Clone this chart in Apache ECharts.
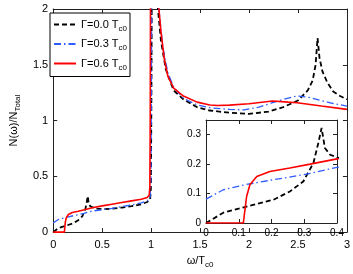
<!DOCTYPE html>
<html><head><meta charset="utf-8">
<script src="https://cdn.jsdelivr.net/npm/echarts@6/dist/echarts.min.js"></script>
<style>html,body{margin:0;padding:0;background:#fff}#c{width:353px;height:274px}</style>
</head><body><div id="c"></div>
<script>
// main axis ticks
const xTicksMain = [0, 0.5, 1, 1.5, 2, 2.5, 3];
const yTicksMain = [0, 0.5, 1, 1.5, 2];
// inset axis ticks
const xTicksInset = [0, 0.1, 0.2, 0.3, 0.4];
const yTicksInset = [0, 0.1, 0.2, 0.3];
const insetYMax = 0.35;

const seriesNames = ['Γ=0.0 T', 'Γ=0.3 T', 'Γ=0.6 T'];

// Γ = 0.0 Tc0
const black = [
  [0,0],[0.053,0.035],[0.119,0.054],[0.206,0.079],[0.256,0.107],[0.297,0.141],
  [0.328,0.204],[0.343,0.272],[0.353,0.323],[0.363,0.255],[0.379,0.232],[0.4,0.223],
  [0.45,0.21],[0.5,0.205],[0.6,0.21],[0.7,0.22],[0.8,0.232],[0.9,0.25],[0.96,0.27],
  [0.99,0.29],[0.998,0.4],[1.003,1.2],[1.008,2.6],
  [1.055,2.2],[1.07,2.0],[1.1,1.72],[1.15,1.46],[1.23,1.27],[1.33,1.19],[1.47,1.12],
  [1.6,1.09],[1.8,1.07],[2.0,1.06],[2.2,1.08],[2.35,1.12],[2.5,1.18],[2.6,1.27],
  [2.65,1.36],[2.68,1.5],[2.70,1.74],[2.72,1.56],[2.75,1.44],[2.8,1.34],[2.86,1.26],
  [2.93,1.22],[3.0,1.19]
];
// Γ = 0.3 Tc0
const blue = [
  [0,0.081],[0.053,0.113],[0.119,0.13],[0.206,0.147],[0.307,0.166],[0.4,0.189],
  [0.5,0.2],[0.6,0.213],[0.7,0.228],[0.8,0.243],[0.9,0.262],[0.96,0.28],[0.99,0.31],
  [0.998,0.5],[1.003,1.3],[1.008,2.6],
  [1.06,2.2],[1.08,2.0],[1.12,1.66],[1.17,1.43],[1.23,1.3],[1.33,1.2],[1.47,1.14],
  [1.6,1.115],[1.8,1.1],[1.95,1.095],[2.1,1.12],[2.24,1.16],[2.35,1.19],[2.49,1.22],
  [2.6,1.21],[2.73,1.18],[2.85,1.155],[3.0,1.13]
];
// Γ = 0.6 Tc0
const red = [
  [0,0],[0.114,0],[0.124,0.09],[0.134,0.13],[0.155,0.158],[0.195,0.175],[0.256,0.187],
  [0.318,0.2],[0.4,0.218],[0.5,0.235],[0.6,0.25],[0.7,0.265],[0.8,0.28],[0.9,0.295],
  [0.96,0.31],[0.98,0.33],[0.987,0.4],[0.991,1.0],[0.995,2.6],
  [1.065,2.15],[1.08,2.0],[1.1,1.8],[1.135,1.55],[1.17,1.4],[1.23,1.29],[1.33,1.22],
  [1.47,1.165],[1.6,1.14],[1.68,1.135],[1.8,1.138],[2.0,1.15],[2.24,1.175],[2.4,1.165],
  [2.49,1.16],[2.74,1.13],[3.0,1.10]
];

const font = 'Liberation Sans, Arial, sans-serif';
const axisCol = '#222';
const colors = ['#000000', '#2f5cff', '#ff0000'];
const dashes = [[5, 3], [7, 3, 1.5, 3], 'solid'];
const widths = [1.8, 1.3, 1.6];
const datas = [black, blue, red];

function axisBase(min, max, step, showLabel, pos, grid, fs) {
  return {
    type: 'value', gridIndex: grid, min: min, max: max, interval: step, position: pos,
    axisLine: {show: true, onZero: false, lineStyle: {color: axisCol, width: 1}},
    axisTick: {show: true, inside: true, length: 4, lineStyle: {color: axisCol}},
    splitLine: {show: false},
    axisLabel: {show: showLabel, color: '#000', fontSize: fs, fontFamily: font, margin: 5,
      formatter: v => String(+v.toFixed(2))}
  };
}

const chart = echarts.init(document.getElementById('c'), null, {renderer: 'canvas'});
const xMain = xTicksMain[1] - xTicksMain[0];
const yMain = yTicksMain[1] - yTicksMain[0];
const xIn = xTicksInset[1] - xTicksInset[0];
const yIn = yTicksInset[1] - yTicksInset[0];

const xAxes = [
  Object.assign(axisBase(xTicksMain[0], xTicksMain[xTicksMain.length-1], xMain, true, 'bottom', 0, 11), {
    name: '{a|ω/T}{s|c0}', nameLocation: 'middle', nameGap: 17,
    nameTextStyle: {rich: {a: {fontSize: 11, fontFamily: font, color: '#000'},
      s: {fontSize: 8, fontFamily: font, color: '#000', padding: [9, 0, 0, 0]}}}
  }),
  axisBase(xTicksMain[0], xTicksMain[xTicksMain.length-1], xMain, false, 'top', 0, 11),
  axisBase(xTicksInset[0], xTicksInset[xTicksInset.length-1], xIn, true, 'bottom', 1, 10),
  axisBase(xTicksInset[0], xTicksInset[xTicksInset.length-1], xIn, false, 'top', 1, 10)
];
xAxes[0].axisLabel.margin = 7;
const yAxes = [
  Object.assign(axisBase(yTicksMain[0], yTicksMain[yTicksMain.length-1], yMain, true, 'left', 0, 11), {
    name: '{a|N(ω)/N}{s|Total}', nameLocation: 'middle', nameGap: 28, nameRotate: 90,
    nameTextStyle: {rich: {a: {fontSize: 11, fontFamily: font, color: '#000'},
      s: {fontSize: 8, fontFamily: font, color: '#000', padding: [9, 0, 0, 0]}}}
  }),
  axisBase(yTicksMain[0], yTicksMain[yTicksMain.length-1], yMain, false, 'right', 0, 11),
  axisBase(yTicksInset[0], insetYMax, yIn, true, 'left', 1, 10),
  axisBase(yTicksInset[0], insetYMax, yIn, false, 'right', 1, 10)
];
yAxes[2].axisLabel.showMaxLabel = false;

const series = [];
for (let g = 0; g < 2; g++) {
  for (let i = 0; i < 3; i++) {
    series.push({
      name: seriesNames[i], type: 'line', xAxisIndex: g === 0 ? 0 : 2, yAxisIndex: g === 0 ? 0 : 2,
      data: datas[i], symbol: 'none', showSymbol: false, smooth: false, clip: true, animation: false,
      lineStyle: {color: colors[i], width: widths[i], type: dashes[i]},
      itemStyle: {color: colors[i]}, z: 3 + i
    });
  }
}

chart.setOption({
  animation: false,
  backgroundColor: '#fff',
  grid: [
    {left: 43, right: 6, top: 9, bottom: 35.5, show: false},
    {left: 206, width: 131, top: 120, height: 103, show: true, backgroundColor: '#fff', borderWidth: 0}
  ],
  legend: {
    left: 50, top: 13, orient: 'vertical', itemWidth: 22, itemHeight: 10, itemGap: 6,
    padding: [6, 3, 5, 3], borderColor: '#000', borderWidth: 1, backgroundColor: '#fff',
    data: seriesNames,
    itemStyle: {opacity: 0, borderWidth: 0},
    formatter: n => '{a|' + n + '}{s|c0}',
    textStyle: {rich: {a: {fontSize: 11, fontFamily: font, color: '#000'},
      s: {fontSize: 8, fontFamily: font, color: '#000', padding: [8, 0, 0, 0]}}}
  },
  xAxis: xAxes,
  yAxis: yAxes,
  series: series
});
</script></body></html>
